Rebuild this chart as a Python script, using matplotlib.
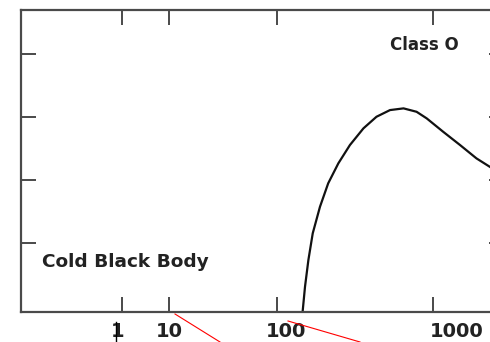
import matplotlib
matplotlib.use('Agg')
import matplotlib.pyplot as plt
from matplotlib.lines import Line2D

# x in arbitrary "log wavelength" units (axis spans 0..10), y in arbitrary flux units
curve_x = [5.83, 5.88, 5.95, 6.04, 6.19, 6.36, 6.57, 6.81, 7.09, 7.36, 7.64,
           7.92, 8.19, 8.40, 8.74, 9.09, 9.43, 9.81]
curve_y = [-0.095, 0.306, 0.73, 1.154, 1.576, 1.948, 2.265, 2.556, 2.821, 3.005, 3.111,
           3.138, 3.084, 2.979, 2.767, 2.556, 2.344, 2.16]

xtick_pos = [2.09, 3.06, 5.30, 8.53]
xtick_labels = ['1', '10', '100', '1000']
xlabel_pos = [2.01, 3.08, 5.49, 9.03]
ytick_pos = [1, 2, 3, 4]

fig = plt.figure(figsize=(4.9, 3.42), dpi=100)
ax = fig.add_axes([21 / 490, 30 / 342, 483 / 490, 302 / 342])

spine_col = '#4a4a4a'
ax.plot(curve_x, curve_y, color='#111111', lw=1.6,
        solid_capstyle='round', solid_joinstyle='round')

ax.set_xlim(0, 10)
ax.set_ylim(-0.095, 4.70)
ax.set_xticks(xtick_pos)
ax.set_xticklabels([''] * len(xtick_pos))
ax.set_yticks(ytick_pos)
ax.set_yticklabels([])
ax.tick_params(direction='in', length=10.5, width=1.4, color=spine_col,
               top=True, right=True, bottom=True, left=True)
for s in ax.spines.values():
    s.set_color(spine_col)
    s.set_linewidth(1.6)

# tick labels sit off their ticks in the original, so place them by hand
for xp, lab in zip(xlabel_pos, xtick_labels):
    ax.annotate(lab, xy=(xp, 0), xycoords=ax.get_xaxis_transform(),
                xytext=(0, -7), textcoords='offset points', ha='center', va='top',
                fontsize=14, fontweight='bold', color='#222222')

ax.text(0.835, 0.885, 'Class O', transform=ax.transAxes, ha='center', va='center',
        fontsize=12, fontweight='bold', color='#222222')
ax.text(0.043, 0.165, 'Cold Black Body', transform=ax.transAxes, ha='left', va='center',
        fontsize=13.3, fontweight='bold', color='#222222')

# red annotation strokes and the stray cursor mark below the axis
fig.add_artist(Line2D([175 / 490, 220 / 490], [1 - 314 / 342, 0], color='red', lw=0.8))
fig.add_artist(Line2D([288 / 490, 360 / 490], [1 - 321 / 342, 0], color='red', lw=0.8))
fig.add_artist(Line2D([115.7 / 490, 115.7 / 490], [0, 1 - 322 / 342], color='black', lw=1.0))

fig.savefig('out.png', dpi=100)
